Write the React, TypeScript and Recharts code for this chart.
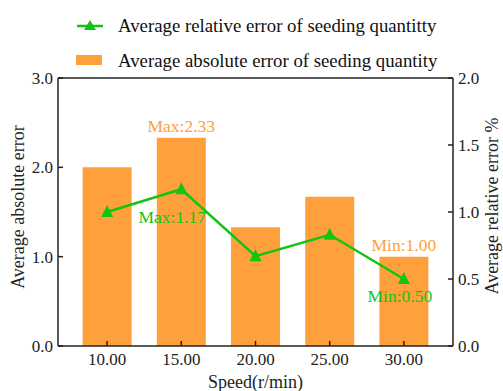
import { ComposedChart, Bar, Line, XAxis, YAxis, Legend, ReferenceLine, LabelList } from "recharts"

const speeds = ["10.00", "15.00", "20.00", "25.00", "30.00"]
const absoluteError = [2.0, 2.33, 1.33, 1.67, 1.0]
const relativeError = [1.0, 1.17, 0.67, 0.83, 0.5]
const leftTicks = [0, 1, 2, 3]
const rightTicks = [0, 0.5, 1, 1.5, 2]

const ORANGE = "#FFA03C"
const GREEN = "#13C413"
const FONT = "'Liberation Serif', 'Times New Roman', serif"

const data = speeds.map((speed, i) => ({
  speed,
  absolute: absoluteError[i],
  relative: relativeError[i],
}))

const maxAbs = absoluteError.indexOf(Math.max(...absoluteError))
const minAbs = absoluteError.indexOf(Math.min(...absoluteError))
const maxRel = relativeError.indexOf(Math.max(...relativeError))
const minRel = relativeError.indexOf(Math.min(...relativeError))

function TriangleDot(props: any) {
  const { cx, cy } = props
  if (cx == null || cy == null) return null
  return <polygon points={`${cx},${cy - 7} ${cx - 6},${cy + 5} ${cx + 6},${cy + 5}`} fill={GREEN} />
}

function BarLabel(props: any) {
  const { x, y, width, index, value } = props
  let text = ""
  if (index === maxAbs) text = `Max:${Number(value).toFixed(2)}`
  else if (index === minAbs) text = `Min:${Number(value).toFixed(2)}`
  if (!text) return null
  return (
    <text x={x + width / 2} y={y - 6} textAnchor="middle" fill={ORANGE} fontSize={17.5} fontFamily={FONT}>
      {text}
    </text>
  )
}

function LineLabel(props: any) {
  const { x, y, index, value } = props
  if (index === maxRel) {
    return (
      <text x={x - 9} y={y + 34} textAnchor="middle" fill={GREEN} fontSize={17.5} fontFamily={FONT}>
        {`Max:${Number(value).toFixed(2)}`}
      </text>
    )
  }
  if (index === minRel) {
    return (
      <text x={x - 4} y={y + 23} textAnchor="middle" fill={GREEN} fontSize={17.5} fontFamily={FONT}>
        {`Min:${Number(value).toFixed(2)}`}
      </text>
    )
  }
  return null
}

function LegendBox() {
  return (
    <svg width={503} height={78} style={{ display: "block" }}>
      <line x1={77} y1={26} x2={103} y2={26} stroke={GREEN} strokeWidth={2.5} />
      <polygon points="90,20 84,30 96,30" fill={GREEN} />
      <text x={118} y={32} fontSize={18.8} fontFamily={FONT} fill="#111">
        Average relative error of seeding quantitty
      </text>
      <rect x={76} y={55} width={26} height={10} fill={ORANGE} />
      <text x={118} y={67} fontSize={18.8} fontFamily={FONT} fill="#111">
        Average absolute error of seeding quantity
      </text>
    </svg>
  )
}

function LeftTitle(props: any) {
  const { viewBox } = props
  const cx = viewBox.x + 18
  const cy = viewBox.y + viewBox.height / 2 - 5
  return (
    <text x={cx} y={cy} transform={`rotate(-90 ${cx} ${cy})`} textAnchor="middle" dominantBaseline="central" fontSize={18} fontFamily={FONT} fill="#222">
      Average absolute error
    </text>
  )
}

function RightTitle(props: any) {
  const { viewBox } = props
  const cx = viewBox.x + 39
  const cy = viewBox.y + viewBox.height / 2 - 6
  return (
    <text x={cx} y={cy} transform={`rotate(-90 ${cx} ${cy})`} textAnchor="middle" dominantBaseline="central" fontSize={18} fontFamily={FONT} fill="#222">
      Average relative error %
    </text>
  )
}

const tickStyle = { fontSize: 17, fontFamily: FONT, fill: "#222" }
const axisLine = { stroke: "#222", strokeWidth: 1.5 }

export default function App() {
  return (
    <div style={{ position: "absolute", left: 0, top: 0, width: 503, height: 391, background: "#fff" }}>
      <ComposedChart
        width={503}
        height={391}
        data={data}
        margin={{ top: 0, right: 0, bottom: 0, left: 0 }}
        barCategoryGap="17%"
      >
        <Legend verticalAlign="top" align="left" height={78} content={() => <LegendBox />} />
        <XAxis
          dataKey="speed"
          height={45}
          padding={{ left: 12, right: 12 }}
          tick={tickStyle}
          tickSize={-5}
          tickMargin={12}
          tickLine={{ stroke: "#222", strokeWidth: 1.5 }}
          axisLine={axisLine}
          label={{ value: "Speed(r/min)", position: "insideBottom", offset: 3, style: { fontSize: 18, fontFamily: FONT, fill: "#222" } }}
        />
        <YAxis
          yAxisId="left"
          width={58}
          domain={[0, 3]}
          ticks={leftTicks}
          tickFormatter={(v: number) => v.toFixed(1)}
          tick={tickStyle}
          tickSize={-5}
          tickMargin={10}
          tickLine={{ stroke: "#222", strokeWidth: 1.5 }}
          axisLine={axisLine}
          label={<LeftTitle />}
        />
        <YAxis
          yAxisId="right"
          orientation="right"
          width={50}
          domain={[0, 2]}
          ticks={rightTicks}
          tickFormatter={(v: number) => v.toFixed(1)}
          tick={tickStyle}
          tickSize={-5}
          tickMargin={10}
          tickLine={{ stroke: "#222", strokeWidth: 1.5 }}
          axisLine={axisLine}
          label={<RightTitle />}
        />
        <ReferenceLine yAxisId="left" y={3} stroke="#222" strokeWidth={1.5} />
        <Bar yAxisId="left" dataKey="absolute" fill={ORANGE} isAnimationActive={false}>
          <LabelList dataKey="absolute" content={BarLabel} />
        </Bar>
        <Line
          yAxisId="right"
          dataKey="relative"
          type="linear"
          stroke={GREEN}
          strokeWidth={2.5}
          dot={<TriangleDot />}
          activeDot={false}
          isAnimationActive={false}
        >
          <LabelList dataKey="relative" content={LineLabel} />
        </Line>
      </ComposedChart>
    </div>
  )
}
